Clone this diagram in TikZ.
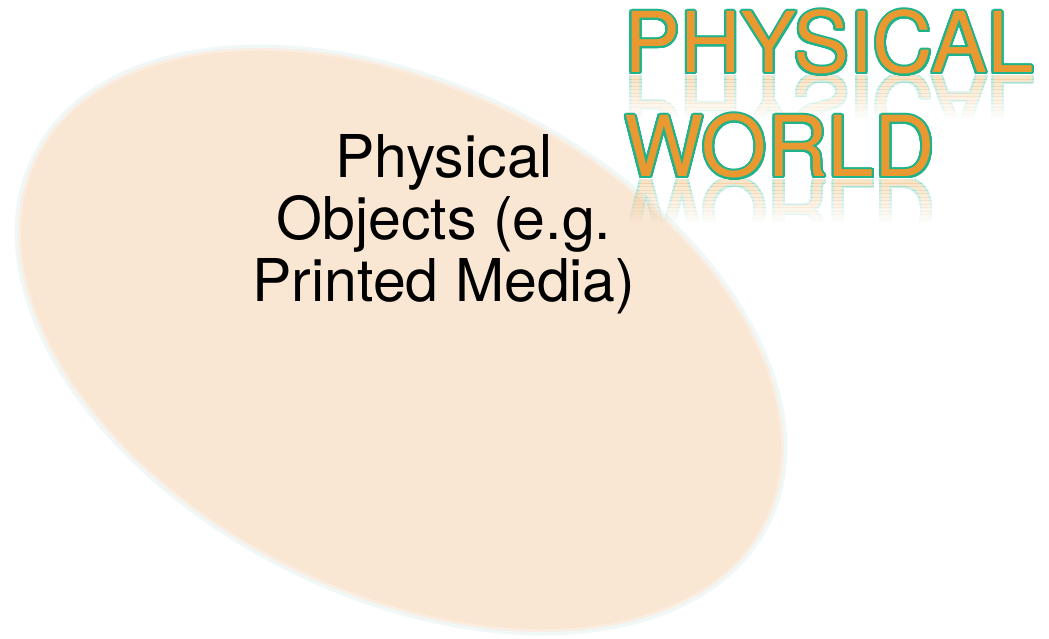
\documentclass[tikz,border=0pt]{standalone}
\usepackage{fontspec}
\setmainfont{TeX Gyre Heros}
\usepackage{contour}
\contourlength{2.0pt}
\contournumber{32}
\definecolor{peach}{HTML}{F9E6D3}
\definecolor{peachedge}{HTML}{FAEDE1}
\definecolor{glow}{HTML}{F0F8F7}
\definecolor{titleorange}{HTML}{E9992F}
\definecolor{titleteal}{HTML}{1FB38B}
\newcommand{\ttl}[1]{\contour{titleteal}{\textcolor{titleorange}{#1}}}
\tikzset{
  bodytext/.style={anchor=base, font=\fontsize{59}{62}\selectfont, text=black, inner sep=0pt},
  titletext/.style={anchor=base west, font=\fontsize{84}{90}\selectfont, inner sep=0pt},
  mirrortext/.style={titletext, yscale=-1, transform shape}
}
\begin{document}
\begin{tikzpicture}[x=1pt,y=1pt]
\path[fill=white] (0,0) rectangle (1049,639);
\useasboundingbox (0,0) rectangle (1049,639);
% ellipse
\begin{scope}[shift={(401,299)}, rotate=-26.7]
  \path[draw=glow, line width=5] (0,0) ellipse [x radius=410, y radius=255];
  \path[fill=peachedge] (0,0) ellipse [x radius=409, y radius=254];
  \path[fill=peach] (0,0) ellipse [x radius=406, y radius=251];
\end{scope}
% body text
\node[bodytext] (l1) at (444,461) {Physical};
\node[bodytext] (l2) at (444,399) {Objects (e.g.};
\node[bodytext] (l3) at (444,337) {Printed Media)};
% title reflections
\foreach \i in {0,...,11}{
  \pgfmathsetmacro{\op}{0.26*(1-\i/12)}
  \begin{scope}[transparency group, opacity=\op]
    \clip (600,{563-3.5*\i}) rectangle (1049,{563-3.5*(\i+1)});
    \node[mirrortext] (r1\i) at (624,563) {\ttl{PHYSICAL}};
  \end{scope}
  \begin{scope}[transparency group, opacity=\op]
    \clip (600,{459-3.5*\i}) rectangle (1049,{459-3.5*(\i+1)});
    \node[mirrortext] (r2\i) at (624,459) {\ttl{WORLD}};
  \end{scope}
}
% title
\node[titletext] (t1) at (624,566) {\ttl{PHYSICAL}};
\node[titletext] (t2) at (624,462) {\ttl{WORLD}};
\end{tikzpicture}
\end{document}
